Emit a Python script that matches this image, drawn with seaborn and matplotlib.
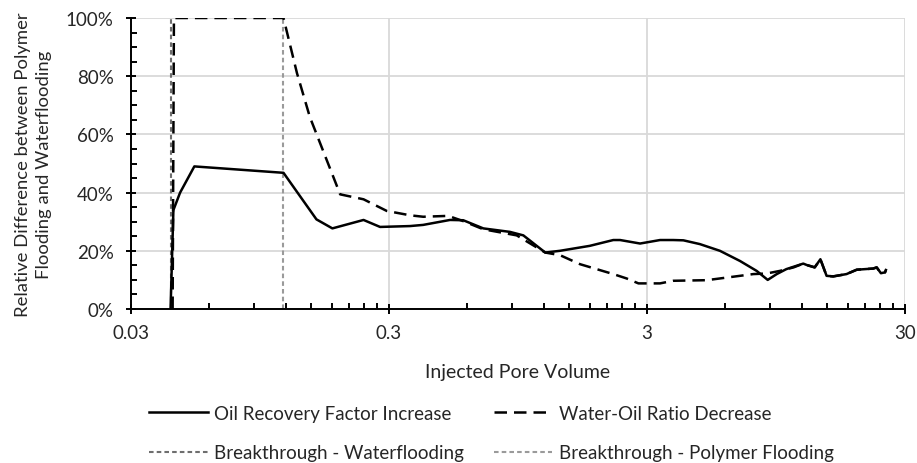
import matplotlib
matplotlib.use("Agg")
import matplotlib.pyplot as plt
import seaborn as sns
from matplotlib.ticker import FixedLocator, FixedFormatter, MultipleLocator, PercentFormatter, NullFormatter

# ---------------- data ----------------
oil_pv = [0.0427, 0.0438, 0.0465, 0.0528, 0.117, 0.157, 0.181, 0.239, 0.277, 0.362,
          0.407, 0.517, 0.582, 0.696, 0.883, 0.995, 1.21, 1.38, 1.80, 2.22, 2.36,
          2.82, 3.37, 3.79, 4.15, 4.81, 5.75, 6.88, 7.98, 8.81, 9.55, 10.4, 12.1,
          12.5, 13.4, 14.1, 14.9, 15.8, 17.8, 19.5, 22.6, 23.3, 24.2, 25.1, 25.3]
oil_pct = [0, 34, 40, 49, 46.8, 30.8, 27.7, 30.6, 28.2, 28.5,
           28.9, 30.6, 30.5, 27.7, 26.5, 25.3, 19.4, 20, 21.7, 23.7, 23.7,
           22.5, 23.7, 23.7, 23.6, 22.3, 20, 16.5, 13.1, 10, 12, 13.7, 15.6,
           15.1, 14.3, 17.1, 11.4, 11.2, 12, 13.5, 13.9, 14.3, 12.3, 12.6, 13.4]

wor_pv = [0.0435, 0.0440, 0.117, 0.132, 0.148, 0.194, 0.239, 0.294, 0.362, 0.407,
          0.509, 0.582, 0.696, 0.938, 1.21, 1.38, 1.65, 2.22, 2.50, 2.78, 3.37,
          3.79, 5.11, 6.48, 7.75, 8.73, 9.83, 11.1, 12.1, 12.5, 13.4, 14.1, 14.9,
          15.8, 17.8, 19.5, 22.6, 23.3, 24.2, 25.1, 25.3]
wor_pct = [0, 100, 100, 81, 66, 39.4, 37.7, 33.7, 32.2, 31.7,
           32, 30.2, 27.4, 25.3, 19.4, 18.5, 15.4, 12, 10.5, 8.8, 8.8,
           9.7, 9.9, 11.1, 12, 12.2, 13.1, 14.3, 15.6, 15.1, 14.3, 17.1, 11.4,
           11.2, 12, 13.5, 13.9, 14.3, 12.3, 12.6, 13.4]

bt_water_pv = [0.0427, 0.0427]
bt_polymer_pv = [0.117, 0.117]
bt_pct = [0, 100]

x_ticks = [0.03, 0.3, 3, 30]
x_tick_labels = ["0.03", "0.3", "3", "30"]

labels = ["Oil Recovery Factor Increase", "Water-Oil Ratio Decrease",
          "Breakthrough - Waterflooding", "Breakthrough - Polymer Flooding"]

# ---------------- style ----------------
plt.rcParams['font.family'] = ['Lato', 'DejaVu Sans']
text_col = '#262626'

fig = plt.figure(figsize=(9.17, 4.64), dpi=100)
ax = fig.add_axes([131 / 917, 1 - 310 / 464, (905 - 131) / 917, (310 - 19) / 464])

sns.lineplot(x=bt_water_pv, y=bt_pct, ax=ax, color='#6e6e6e', lw=1.5,
             ls=(0, (2.2, 1.5)), estimator=None, sort=False, label=labels[2])
sns.lineplot(x=bt_polymer_pv, y=bt_pct, ax=ax, color='#9a9a9a', lw=1.5,
             ls=(0, (2.2, 1.5)), estimator=None, sort=False, label=labels[3])
sns.lineplot(x=wor_pv, y=wor_pct, ax=ax, color='black', lw=1.8,
             ls=(0, (5, 2.8)), estimator=None, sort=False, label=labels[1])
sns.lineplot(x=oil_pv, y=oil_pct, ax=ax, color='black', lw=1.8,
             estimator=None, sort=False, label=labels[0])

ax.set_xscale('log')
ax.set_xlim(0.03, 30)
ax.set_ylim(0, 100)

ax.xaxis.set_major_locator(FixedLocator(x_ticks))
ax.xaxis.set_major_formatter(FixedFormatter(x_tick_labels))
minor = [0.03 * k * 10 ** n for n in range(3) for k in range(2, 10)]
ax.xaxis.set_minor_locator(FixedLocator(minor))
ax.xaxis.set_minor_formatter(NullFormatter())
ax.yaxis.set_major_locator(MultipleLocator(20))
ax.yaxis.set_minor_locator(MultipleLocator(5))
ax.yaxis.set_major_formatter(PercentFormatter(xmax=100, decimals=0))

ax.grid(True, which='major', color='#d9d9d9', lw=1.3)
ax.set_axisbelow(True)
for s in ['top', 'right']:
    ax.spines[s].set_visible(False)
for s in ['left', 'bottom']:
    ax.spines[s].set_color('black')
    ax.spines[s].set_linewidth(1.4)
    ax.spines[s].set_zorder(5)

ax.tick_params(axis='both', which='major', direction='inout', length=7, width=1.4,
               color='black', labelsize=13.5, labelcolor=text_col)
ax.tick_params(axis='both', which='minor', direction='in', length=4, width=1.4, color='black')
ax.tick_params(axis='x', which='major', pad=7)
ax.tick_params(axis='y', which='major', pad=9)

ax.set_xlabel("Injected Pore Volume", fontsize=14, color=text_col, labelpad=16)
ax.set_ylabel("Relative Difference between Polymer\nFlooding and Waterflooding",
              fontsize=13.3, color=text_col, labelpad=10, linespacing=1.35)

handles, labs = ax.get_legend_handles_labels()
ax.get_legend().remove()
order = [labels[0], labels[2], labels[1], labels[3]]
hmap = dict(zip(labs, handles))
fig.legend([hmap[l] for l in order], order, ncol=2, loc='center',
           bbox_to_anchor=(0.536, 1 - 434 / 464), frameon=False, fontsize=13.5,
           handlelength=3.1, handletextpad=0.35, columnspacing=1.6, labelspacing=1.2,
           labelcolor=text_col)

fig.savefig("out.png", dpi=100)
